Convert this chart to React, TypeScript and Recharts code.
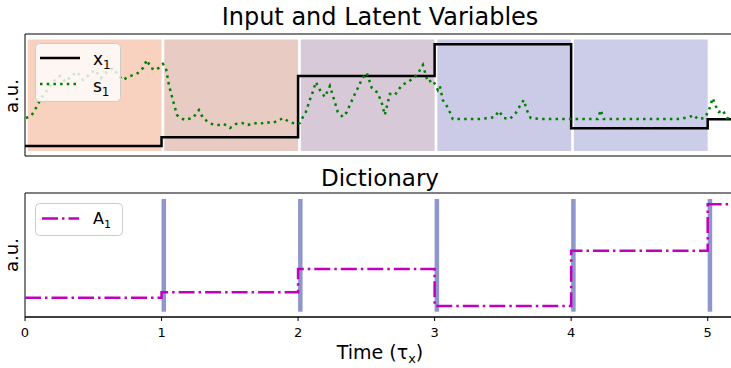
import React from 'react';
import { ComposedChart, Line, XAxis, YAxis, ReferenceArea } from 'recharts';

// step times shared by the latent variable and the dictionary atom
const stepTimes = [0, 1, 2, 3, 4, 5, 5.2];
const x1Values = [0.1, 0.187, 0.8, 1.117, 0.277, 0.367, 0.367];
const a1Values = [0.193, 0.247, 0.48, 0.11, 0.663, 1.127, 1.127];

// noisy input s1
const s1Times = [
  0.007, 0.044, 0.073, 0.095, 0.124, 0.154, 0.183, 0.22, 0.256, 0.3, 0.337, 0.381, 0.425, 0.469, 0.512,
  0.556, 0.6, 0.644, 0.688, 0.717, 0.754, 0.791, 0.827, 0.864, 0.893, 0.922, 0.959, 0.988, 1.01, 1.032,
  1.054, 1.083, 1.113, 1.142, 1.171, 1.193, 1.23, 1.274, 1.303, 1.332, 1.369, 1.413, 1.457, 1.501, 1.545,
  1.589, 1.633, 1.676, 1.72, 1.764, 1.808, 1.852, 1.889, 1.925, 1.962, 1.991, 2.013, 2.035, 2.057, 2.086,
  2.108, 2.13, 2.16, 2.196, 2.233, 2.269, 2.291, 2.328, 2.357, 2.379, 2.416, 2.445, 2.467, 2.504, 2.54,
  2.584, 2.613, 2.635, 2.672, 2.709, 2.76, 2.804, 2.855, 2.884, 2.914, 2.95, 2.987, 3.023, 3.038, 3.06,
  3.089, 3.111, 3.133, 3.184, 3.258, 3.331, 3.404, 3.441, 3.47, 3.507, 3.55, 3.594, 3.624, 3.653, 3.675,
  3.704, 3.77, 3.917, 4.063, 4.195, 4.217, 4.239, 4.356, 4.502, 4.649, 4.795, 4.868, 4.898, 4.927, 4.978,
  5.007, 5.037, 5.059, 5.081, 5.11, 5.139, 5.2,
];
const s1Values = [
  0.38, 0.4, 0.46, 0.52, 0.59, 0.64, 0.7, 0.76, 0.8, 0.74, 0.8, 0.84, 0.76, 0.81, 0.86,
  0.78, 0.84, 0.88, 0.8, 0.76, 0.79, 0.81, 0.83, 0.88, 0.96, 0.88, 0.86, 0.89, 0.92, 0.88,
  0.71, 0.56, 0.41, 0.38, 0.36, 0.37, 0.38, 0.46, 0.38, 0.35, 0.32, 0.31, 0.32, 0.28, 0.32,
  0.33, 0.31, 0.33, 0.32, 0.34, 0.33, 0.35, 0.38, 0.35, 0.33, 0.32, 0.33, 0.39, 0.44, 0.56,
  0.64, 0.74, 0.66, 0.59, 0.7, 0.54, 0.44, 0.39, 0.44, 0.51, 0.62, 0.7, 0.77, 0.83, 0.68,
  0.63, 0.53, 0.41, 0.62, 0.61, 0.71, 0.74, 0.79, 0.84, 0.91, 0.74, 0.76, 0.66, 0.7, 0.56,
  0.5, 0.44, 0.37, 0.37, 0.37, 0.37, 0.38, 0.39, 0.45, 0.38, 0.37, 0.43, 0.5, 0.56, 0.46,
  0.38, 0.37, 0.37, 0.37, 0.37, 0.46, 0.37, 0.37, 0.37, 0.37, 0.37, 0.39, 0.41, 0.37, 0.38,
  0.45, 0.58, 0.5, 0.44, 0.46, 0.38, 0.37,
];

const regionStarts = [0, 1, 2, 3, 4];
const regionColors = ['#f9d1bf', '#e8cbc2', '#d8c9d9', '#cccbe7', '#cccee9'];
const atomTimes = [1, 2, 3, 4, 5];
const xTicks = [0, 1, 2, 3, 4, 5];

const x1Data = stepTimes.map((t, i) => ({ t, v: x1Values[i] }));
const a1Data = stepTimes.map((t, i) => ({ t, v: a1Values[i] }));
const s1Data = s1Times.map((t, i) => ({ t, v: s1Values[i] }));

const FONT = 'DejaVu Sans';
const X_MAX = 5.2;

const TopPanel = () => (
  <ComposedChart width={760} height={170} margin={{ top: 34, right: 25, bottom: 14, left: 25 }}>
    <XAxis type="number" dataKey="t" domain={[0, X_MAX]} hide allowDataOverflow />
    <YAxis type="number" domain={[0, 1.22]} hide allowDataOverflow />
    {regionStarts.map((s, i) => (
      <ReferenceArea
        key={s}
        x1={s + 0.02}
        x2={s + 1}
        y1={0.05}
        y2={1.165}
        fill={regionColors[i]}
        fillOpacity={1}
        stroke="none"
      />
    ))}
    <Line
      data={x1Data}
      dataKey="v"
      type="stepAfter"
      stroke="#000"
      strokeWidth={2.5}
      dot={false}
      isAnimationActive={false}
    />
    <Line
      data={s1Data}
      dataKey="v"
      type="linear"
      stroke="#008000"
      strokeWidth={2.5}
      strokeDasharray="2.5 4.2"
      dot={false}
      isAnimationActive={false}
    />
    <ReferenceArea x1={0} x2={X_MAX} y1={0} y2={1.22} fill="none" stroke="#000" strokeWidth={1} />
  </ComposedChart>
);

const BottomPanel = () => (
  <ComposedChart width={760} height={208} margin={{ top: 33, right: 25, bottom: 21, left: 25 }}>
    <XAxis
      type="number"
      dataKey="t"
      domain={[0, X_MAX]}
      ticks={xTicks}
      interval={0}
      height={30}
      tickSize={4}
      tickMargin={7}
      allowDataOverflow
      axisLine={{ stroke: '#000' }}
      tickLine={{ stroke: '#000' }}
      tick={{ fill: '#000', fontSize: 13, fontFamily: FONT }}
    />
    <YAxis type="number" domain={[0, 1.24]} hide allowDataOverflow />
    {atomTimes.map((t) => (
      <ReferenceArea key={t} x1={t} x2={t + 0.033} y1={0.053} y2={1.18} fill="#8f96cc" fillOpacity={1} stroke="none" />
    ))}
    <Line
      data={a1Data}
      dataKey="v"
      type="stepAfter"
      stroke="#bf00bf"
      strokeWidth={2.5}
      strokeDasharray="16 4 2.5 4"
      dot={false}
      isAnimationActive={false}
    />
    <ReferenceArea x1={0} x2={X_MAX} y1={0} y2={1.24} fill="none" stroke="#000" strokeWidth={1} />
  </ComposedChart>
);

const Overlay = () => (
  <svg width={731} height={368} style={{ position: 'absolute', left: 0, top: 0, pointerEvents: 'none' }} fontFamily={FONT}>
    <text x={380} y={25} textAnchor="middle" fontSize={24} fill="#000">Input and Latent Variables</text>
    <text x={380} y={186} textAnchor="middle" fontSize={23} fill="#000">Dictionary</text>
    <text transform="translate(18 96) rotate(-90)" textAnchor="middle" fontSize={18} fill="#000">a.u.</text>
    <text transform="translate(18 255) rotate(-90)" textAnchor="middle" fontSize={18} fill="#000">a.u.</text>
    <text x={380} y={359} textAnchor="middle" fontSize={19} fill="#000">
      Time (τ<tspan fontSize={13} dy={4}>x</tspan><tspan dy={-4}>)</tspan>
    </text>

    {/* legend, top panel */}
    <rect x={35.5} y={43.5} width={85} height={58} rx={4} fill="#fff" fillOpacity={0.8} stroke="#ccc" />
    <line x1={40} y1={58} x2={80} y2={58} stroke="#000" strokeWidth={2.5} />
    <text x={93} y={65} fontSize={17} fill="#000">x<tspan fontSize={12} dy={4}>1</tspan></text>
    <line x1={40} y1={84} x2={80} y2={84} stroke="#008000" strokeWidth={2.5} strokeDasharray="2.5 4.2" />
    <text x={93} y={92} fontSize={17} fill="#000">s<tspan fontSize={12} dy={4}>1</tspan></text>

    {/* legend, bottom panel */}
    <rect x={35.5} y={203.5} width={87} height={32} rx={4} fill="#fff" fillOpacity={0.8} stroke="#ccc" />
    <line x1={42} y1={218.5} x2={79} y2={218.5} stroke="#bf00bf" strokeWidth={2.5} strokeDasharray="16 4 2.5 4" />
    <text x={93} y={224} fontSize={16} fill="#000">A<tspan fontSize={11} dy={4}>1</tspan></text>
  </svg>
);

export default function App() {
  return (
    <div
      style={{
        position: 'absolute',
        left: 0,
        top: 0,
        width: 731,
        height: 368,
        overflow: 'hidden',
        background: '#fff',
        fontFamily: FONT,
      }}
    >
      <div style={{ position: 'absolute', left: 0, top: 0 }}>
        <TopPanel />
      </div>
      <div style={{ position: 'absolute', left: 0, top: 160 }}>
        <BottomPanel />
      </div>
      <Overlay />
    </div>
  );
}
